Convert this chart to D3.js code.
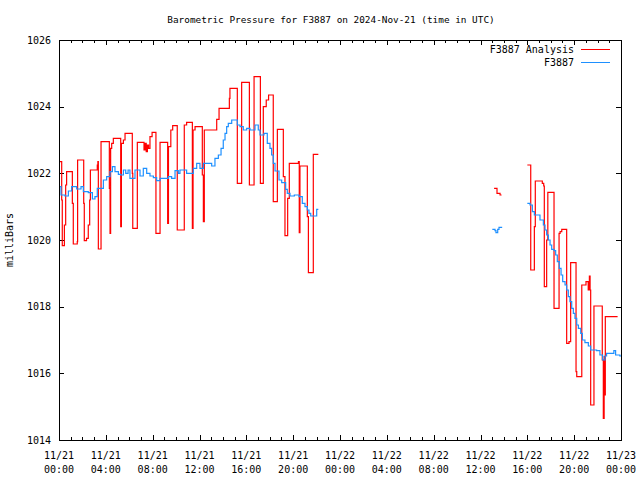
<!DOCTYPE html>
<html><head><meta charset="utf-8">
<script src="https://cdn.jsdelivr.net/npm/d3@7"></script>
<style>
body{margin:0;background:#fff}
svg{display:block}
text{font-family:"DejaVu Sans Mono","Liberation Mono",monospace;font-size:10px;fill:#000}
</style>
</head><body><svg id="chart" width="640" height="480"></svg>
<script>
const title = "Barometric Pressure for F3887 on 2024-Nov-21 (time in UTC)";
const yTitle = "milliBars";
const seriesNames = ["F3887 Analysis", "F3887"];
const seriesColors = ["#ff0000", "#1e90ff"];
const yTicks = [1014, 1016, 1018, 1020, 1022, 1024, 1026];
const xTickHours = [0, 4, 8, 12, 16, 20, 24, 28, 32, 36, 40, 44, 48];
const xTickDates = ["11/21","11/21","11/21","11/21","11/21","11/21","11/22","11/22","11/22","11/22","11/22","11/22","11/23"];
const xTickTimes = ["00:00","04:00","08:00","12:00","16:00","20:00","00:00","04:00","08:00","12:00","16:00","20:00","00:00"];

// F3887 Analysis (hours since 11/21 00:00 UTC, millibars); null = gap
const analysisHours = [0,0.23,0.28,0.46,0.57,0.65,1.14,1.22,1.56,1.59,2.11,2.16,2.35,2.5,2.62,2.68,3.27,3.32,3.36,3.59,4.3,4.36,4.41,4.5,4.64,5.27,5.33,5.5,5.64,6.26,6.3,6.69,7.26,7.35,7.45,7.55,7.65,7.77,7.95,8.28,8.63,9.28,9.35,9.55,9.71,10.1,10.7,10.9,11.39,11.45,11.62,12.24,12.33,12.41,13.47,13.67,14.55,14.6,15.23,15.6,16.26,16.66,17.2,17.45,17.7,17.9,18.3,18.65,19.16,19.3,19.53,19.67,20.45,20.52,20.58,21.21,21.3,21.72,22.15,22.2,
  37.16,37.41,37.67,37.8,37.85,
  40.0,40.29,40.6,40.68,41.28,41.4,41.45,41.65,41.75,42.28,42.71,42.8,42.94,43.36,43.56,43.7,44.16,44.22,44.65,45.01,45.2,45.3,45.36,45.41,45.69,46.4,46.49,46.56,46.6,46.66,47.71];
const analysisValues = [1022.35,1021.2,1019.83,1020.45,1021.65,1022.05,1021.1,1019.88,1019.95,1022.4,1021.1,1019.98,1020.05,1020.45,1021.2,1022.1,1022.25,1022.35,1019.73,1022.95,1021.55,1020.2,1022.75,1022.9,1023.05,1020.4,1022.9,1023.0,1023.2,1022.0,1020.35,1022.93,1022.7,1022.9,1022.65,1022.85,1022.75,1023.1,1023.23,1020.2,1022.93,1020.5,1022.8,1023.3,1023.43,1020.3,1023.45,1023.53,1020.35,1023.3,1023.4,1021.95,1020.55,1023.3,1023.62,1023.95,1024.25,1024.55,1021.7,1024.73,1021.65,1024.9,1021.7,1024.0,1024.2,1024.35,1021.15,1023.32,1021.9,1020.13,1021.25,1022.3,1022.35,1020.22,1022.22,1020.7,1019.02,1022.57,1022.57,null,
  1021.55,1021.4,1021.35,1021.35,null,
  1022.25,1019.1,1020.4,1021.77,1021.7,1021.62,1018.6,1020.0,1021.43,1017.95,1020.2,1020.25,1020.32,1016.9,1016.95,1019.32,1016.05,1015.9,1018.65,1018.75,1018.5,1018.92,1018.5,1015.05,1018.02,1016.4,1014.65,1016.5,1015.35,1017.7,1017.7];

// F3887 observations
const obsHours = [0.0,0.17,0.51,0.8,1.08,1.51,1.88,2.08,2.5,2.85,3.07,3.27,3.59,3.79,4.07,4.36,4.56,4.78,5.07,5.27,5.5,5.7,5.9,6.06,6.49,6.92,7.2,7.49,7.77,8.06,8.34,8.63,9.05,9.34,9.62,9.91,10.19,10.33,10.62,10.9,11.19,11.47,11.76,12.04,12.33,12.62,13.04,13.32,13.61,13.84,14.03,14.18,14.32,14.46,14.75,15.03,15.23,15.46,15.74,16.03,16.31,16.74,17.02,17.17,17.51,17.79,18.02,18.16,18.3,18.45,18.79,19.02,19.36,19.5,19.73,20.1,20.5,20.78,21.01,21.21,21.35,21.5,21.72,22.01,22.15,22.2,
  37.01,37.24,37.32,37.47,37.58,37.8,37.85,
  40.0,40.23,40.43,40.6,40.8,41.08,41.37,41.51,41.65,41.8,41.94,42.08,42.28,42.42,42.56,42.73,42.88,43.02,43.22,43.36,43.5,43.64,43.79,43.93,44.07,44.22,44.36,44.56,44.7,44.92,45.21,45.41,45.92,46.2,46.43,46.63,46.77,47.05,47.25,47.39,47.54,47.9,48];
const obsValues = [1021.6,1021.35,1021.32,1021.47,1021.6,1021.53,1021.6,1021.45,1021.42,1021.23,1021.3,1021.55,1021.55,1021.8,1021.9,1022.05,1022.2,1022.05,1021.97,1021.95,1022.1,1022.0,1022.1,1021.85,1022.1,1021.92,1022.15,1022.0,1021.92,1021.87,1021.78,1021.85,1021.85,1021.9,1021.85,1022.08,1022.0,1022.1,1022.1,1022.0,1022.0,1022.15,1022.3,1022.15,1022.3,1022.3,1022.22,1022.45,1022.55,1022.75,1023.0,1023.2,1023.4,1023.5,1023.6,1023.6,1023.45,1023.4,1023.3,1023.35,1023.3,1023.45,1023.3,1023.15,1023.2,1022.9,1022.75,1022.55,1022.3,1022.07,1021.8,1021.72,1021.52,1021.4,1021.32,1021.35,1021.3,1021.1,1021.0,1020.9,1020.8,1020.72,1020.72,1020.92,1020.92,null,
  1020.32,1020.28,1020.22,1020.32,1020.38,1020.4,null,
  1021.1,1021.05,1020.85,1020.75,1020.75,1020.6,1020.45,1020.3,1020.15,1020.0,1019.85,1019.72,1019.68,1019.55,1019.35,1019.15,1018.95,1018.75,1018.65,1018.5,1018.3,1018.15,1017.95,1017.8,1017.65,1017.45,1017.35,1017.2,1017.0,1016.92,1016.82,1016.7,1016.68,1016.55,1016.4,1016.52,1016.6,1016.6,1016.6,1016.68,1016.55,1016.52,1016.52];

const L = 59, R = 621, T = 40, B = 440;
const svg = d3.select("#chart");
const x = d3.scaleLinear().domain([0, 48]).range([L, R]);
const y = d3.scaleLinear().domain([1014, 1026]).range([B, T]);

const minorHours = d3.range(0, 49).filter(h => h % 4 !== 0);

function strip(g){ g.select(".domain").remove(); g.selectAll(".tick line").attr("stroke","#000"); g.attr("shape-rendering","crispEdges"); }

svg.append("g").attr("transform",`translate(0,${B})`).call(d3.axisBottom(x).tickValues(xTickHours).tickSize(-5).tickFormat("")).call(strip);
svg.append("g").attr("transform",`translate(0,${B})`).call(d3.axisBottom(x).tickValues(minorHours).tickSize(-3).tickFormat("")).call(strip);
svg.append("g").attr("transform",`translate(0,${T})`).call(d3.axisTop(x).tickValues(xTickHours).tickSize(-5).tickFormat("")).call(strip);
svg.append("g").attr("transform",`translate(0,${T})`).call(d3.axisTop(x).tickValues(minorHours).tickSize(-3).tickFormat("")).call(strip);
svg.append("g").attr("transform",`translate(${L},0)`).call(d3.axisLeft(y).tickValues(yTicks).tickSize(-5).tickFormat("")).call(strip);
svg.append("g").attr("transform",`translate(${R},0)`).call(d3.axisRight(y).tickValues(yTicks).tickSize(-5).tickFormat("")).call(strip);

// tick labels
svg.append("g").selectAll("text").data(yTicks).join("text")
  .attr("x", L - 8).attr("y", d => y(d)).attr("dy","0.35em").attr("text-anchor","end").text(d => d);
const xl = svg.append("g").selectAll("g").data(xTickHours).join("g");
xl.append("text").attr("x", d => x(d)).attr("y", B + 19).attr("text-anchor","middle").text((d,i) => xTickDates[i]);
xl.append("text").attr("x", d => x(d)).attr("y", B + 33).attr("text-anchor","middle").text((d,i) => xTickTimes[i]);

// data lines
const analysis = analysisHours.map((h,i) => ({h, v: analysisValues[i]}));
const obs = obsHours.map((h,i) => ({h, v: obsValues[i]}));
const line = d3.line().defined(d => d.v !== null).x(d => x(d.h)).y(d => y(d.v)).curve(d3.curveStepAfter);

svg.append("path").datum(analysis).attr("d", line).attr("fill","none").attr("stroke", seriesColors[0]).attr("stroke-width",1.2);
svg.append("path").datum(obs).attr("d", line).attr("fill","none").attr("stroke", seriesColors[1]).attr("stroke-width",1.2);

// frame
svg.append("rect").attr("x", L + 0.5).attr("y", T + 0.5).attr("width", R - L).attr("height", B - T)
  .attr("fill","none").attr("stroke","#000").attr("stroke-width",1).attr("shape-rendering","crispEdges");

// title & axis title
svg.append("text").attr("x", 331).attr("y", 23).attr("text-anchor","middle").style("font-size","9.4px").text(title);
svg.append("text").attr("transform","translate(13,240) rotate(-90)").attr("text-anchor","middle").text(yTitle);

// legend
seriesNames.forEach((n,i) => {
  const ly = 49 + i * 13;
  svg.append("text").attr("x", 574).attr("y", ly).attr("dy","0.35em").attr("text-anchor","end").text(n);
  svg.append("line").attr("x1", 581).attr("x2", 610).attr("y1", ly + 0.5).attr("y2", ly + 0.5)
    .attr("stroke", seriesColors[i]).attr("stroke-width",1).attr("shape-rendering","crispEdges");
});
</script>
</body></html>
